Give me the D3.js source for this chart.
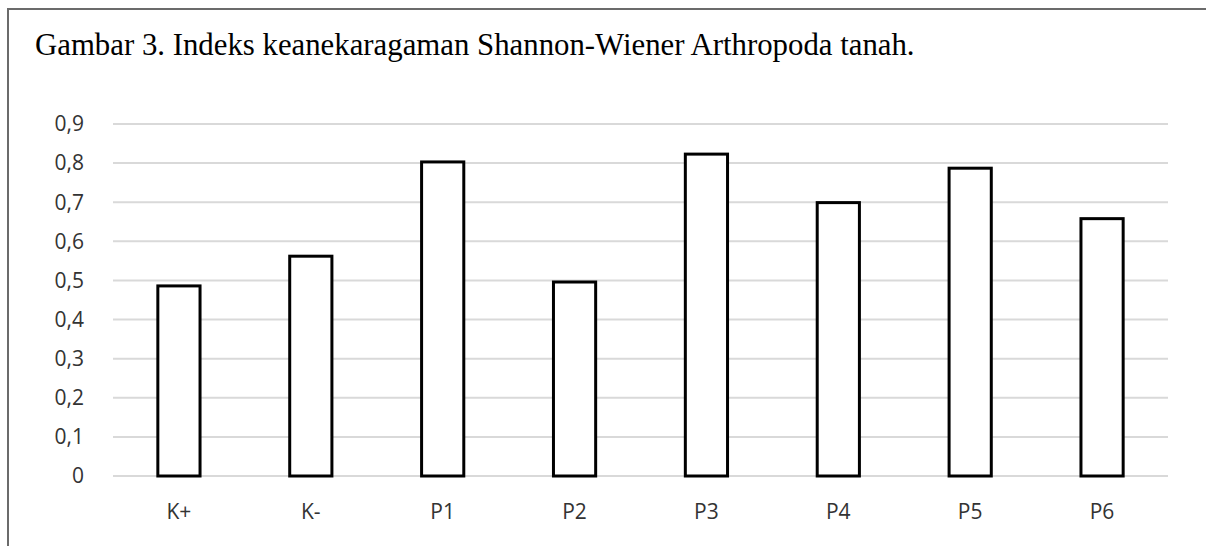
<!DOCTYPE html>
<html>
<head>
<meta charset="utf-8">
<script src="https://cdn.jsdelivr.net/npm/d3@7"></script>
<style>
  body { margin: 0; background: #fff; }
  svg { display: block; }
  .title { font-family: "Liberation Serif", "Times New Roman", serif; font-size: 30.8px; fill: #000; }
  .axis-label { font-family: "Open Sans", sans-serif; font-size: 21px; fill: #333; }
</style>
</head>
<body>
<svg id="chart"></svg>
<script>
var categories = ['K+', 'K-', 'P1', 'P2', 'P3', 'P4', 'P5', 'P6'];
var diversity = [0.486, 0.562, 0.803, 0.496, 0.823, 0.699, 0.787, 0.658];
var yTicks = [0, 0.1, 0.2, 0.3, 0.4, 0.5, 0.6, 0.7, 0.8, 0.9];
var titleText = 'Gambar 3. Indeks keanekaragaman Shannon-Wiener Arthropoda tanah.';

var width = 1206, height = 546;
var plot = {l: 113, r: 1168, t: 124, b: 476};

var svg = d3.select('#chart').attr('width', width).attr('height', height);

// frame (only top and left edges visible in the original crop)
svg.append('rect')
  .attr('x', 8).attr('y', 9)
  .attr('width', width + 20).attr('height', height + 20)
  .attr('fill', '#fff')
  .attr('stroke', '#6b6b6b')
  .attr('stroke-width', 2);

svg.append('text').attr('class', 'title')
  .attr('x', 35).attr('y', 55)
  .text(titleText);

var x = d3.scaleBand().domain(categories).range([plot.l, plot.r]).paddingInner(0.68).paddingOuter(0.34);
var y = d3.scaleLinear().domain([0, 0.9]).range([plot.b, plot.t]);

// gridlines
svg.append('g').selectAll('line')
  .data(yTicks)
  .enter()
  .append('line')
  .attr('x1', plot.l).attr('x2', plot.r)
  .attr('y1', function(d) { return y(d); })
  .attr('y2', function(d) { return y(d); })
  .attr('stroke', '#d9d9d9')
  .attr('stroke-width', 2);

// y axis labels
var fmt = function(d) { return d === 0 ? '0' : d3.format('.1f')(d).replace('.', ','); };
svg.append('g').selectAll('text')
  .data(yTicks)
  .enter()
  .append('text')
  .attr('class', 'axis-label')
  .attr('x', 84)
  .attr('y', function(d) { return y(d); })
  .attr('dy', '0.35em')
  .attr('text-anchor', 'end')
  .text(fmt);

// bars
svg.append('g').selectAll('rect')
  .data(diversity)
  .enter()
  .append('rect')
  .attr('x', function(d, i) { return x(categories[i]); })
  .attr('y', function(d) { return y(d); })
  .attr('width', x.bandwidth())
  .attr('height', function(d) { return y(0) - y(d); })
  .attr('fill', '#fff')
  .attr('stroke', '#000')
  .attr('stroke-width', 3);

// x axis labels
svg.append('g').selectAll('text')
  .data(categories)
  .enter()
  .append('text')
  .attr('class', 'axis-label')
  .attr('x', function(d) { return x(d) + x.bandwidth() / 2; })
  .attr('y', 519)
  .attr('text-anchor', 'middle')
  .text(function(d) { return d; });
</script>
</body>
</html>
